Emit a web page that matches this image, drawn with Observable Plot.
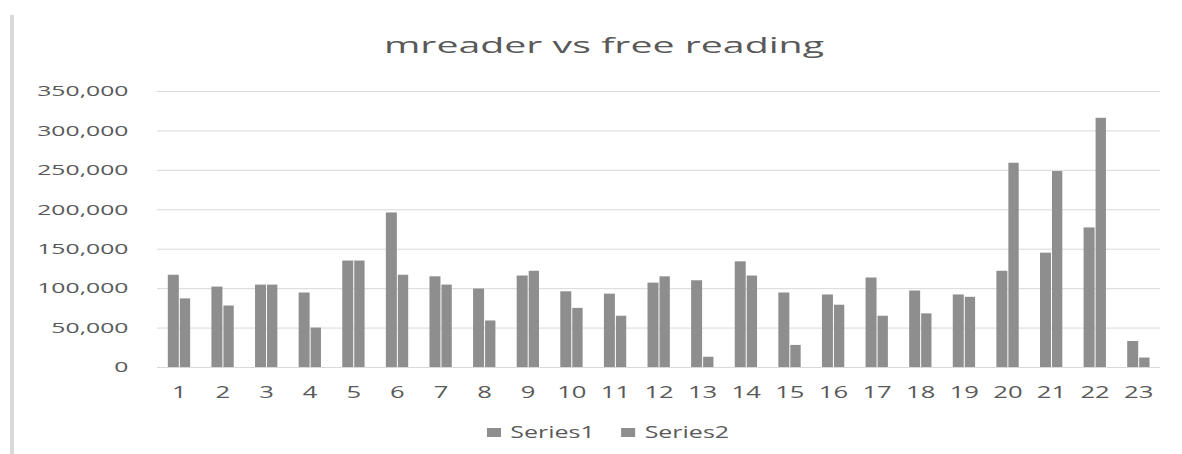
<!DOCTYPE html>
<html>
<head>
<meta charset="utf-8">
<script src="https://cdn.jsdelivr.net/npm/d3@7"></script>
<script src="https://cdn.jsdelivr.net/npm/@observablehq/plot@0.6"></script>
<style>
  html, body { margin: 0; padding: 0; background: #ffffff; }
  #wrap { position: relative; width: 1182px; height: 454px; overflow: hidden; font-family: 'Open Sans', sans-serif; color: #595959; }
  #border { position: absolute; left: 10px; top: 15px; width: 4px; height: 439px; background: #d9d9d9; }
  #title { position: absolute; left: 604px; top: 35px; font-size: 21px; line-height: 1; white-space: nowrap; transform: translateX(-50%) scaleX(1.87); transform-origin: center; }
  #chart { position: absolute; left: 0; top: 70px; }
  #legend { position: absolute; left: 608px; top: 423px; display: flex; align-items: center; font-size: 16px; line-height: 18px; white-space: nowrap; transform: translateX(-50%) scaleX(1.56); transform-origin: center; }
  .sw { display: inline-block; width: 9px; height: 9px; background: #8e8e8e; margin-right: 6px; }
  .item { display: flex; align-items: center; }
  .item + .item { margin-left: 17px; }
</style>
</head>
<body>
<div id="wrap">
  <div id="border"></div>
  <div id="title">mreader vs free reading</div>
  <div id="chart"></div>
  <div id="legend"></div>
</div>
<script>
const categories = ["1","2","3","4","5","6","7","8","9","10","11","12","13","14","15","16","17","18","19","20","21","22","23"];
const seriesNames = ["Series1", "Series2"];
const series1 = [117000, 102000, 104500, 94500, 135000, 196000, 115000, 99500, 116000, 96000, 93000, 107000, 110000, 134000, 94500, 92000, 113500, 97000, 92000, 122000, 145000, 177000, 33000];
const series2 = [87000, 78000, 104500, 50000, 135000, 117000, 104500, 59000, 122000, 75000, 65000, 115000, 13000, 116000, 28000, 79000, 65000, 68000, 89000, 259000, 248500, 316000, 12000];
const yTicks = [0, 50000, 100000, 150000, 200000, 250000, 300000, 350000];

const barColor = "#8e8e8e";
const textColor = "#595959";

const width = 1182, height = 340;
const marginLeft = 157, marginRight = 22;
const bw = (width - marginLeft - marginRight) / categories.length;

const rows1 = categories.map((c, i) => ({cat: c, series: seriesNames[0], value: series1[i]}));
const rows2 = categories.map((c, i) => ({cat: c, series: seriesNames[1], value: series2[i]}));

const chart = Plot.plot({
  width, height,
  marginLeft, marginRight,
  marginTop: 21, marginBottom: 43,
  style: {fontFamily: "'Open Sans', sans-serif", fontSize: "15px", color: textColor, background: "transparent"},
  x: {type: "band", domain: categories, paddingInner: 0, paddingOuter: 0, round: false},
  y: {domain: [0, 350000]},
  marks: [
    Plot.gridY(yTicks, {stroke: "#d9d9d9", strokeOpacity: 1, strokeWidth: 1}),
    Plot.barY(rows1, {x: "cat", y: "value", fill: barColor, insetLeft: bw * 0.248, insetRight: bw * 0.5}),
    Plot.barY(rows2, {x: "cat", y: "value", fill: barColor, insetLeft: bw * 0.523, insetRight: bw * 0.24}),
    Plot.axisY(yTicks, {tickSize: 0, tickPadding: 29, tickFormat: d3.format(","), fontSize: 15, fill: textColor, label: null}),
    Plot.axisX({tickSize: 0, tickPadding: 19, fontSize: 16, fill: textColor, label: null})
  ]
});
document.getElementById("chart").appendChild(chart);

function stretch(sel, k) {
  chart.querySelectorAll(sel).forEach(t => {
    const tr = t.getAttribute("transform") || "";
    t.setAttribute("transform", (tr + ` scale(${k},1)`).trim());
  });
}
stretch('g[aria-label="y-axis tick label"] text', 1.65);
stretch('g[aria-label="x-axis tick label"] text', 1.6);

const legend = document.getElementById("legend");
seriesNames.forEach(name => {
  const item = document.createElement("div");
  item.className = "item";
  const sw = document.createElement("span");
  sw.className = "sw";
  sw.style.background = barColor;
  const label = document.createElement("span");
  label.textContent = name;
  item.appendChild(sw);
  item.appendChild(label);
  legend.appendChild(item);
});
</script>
</body>
</html>
